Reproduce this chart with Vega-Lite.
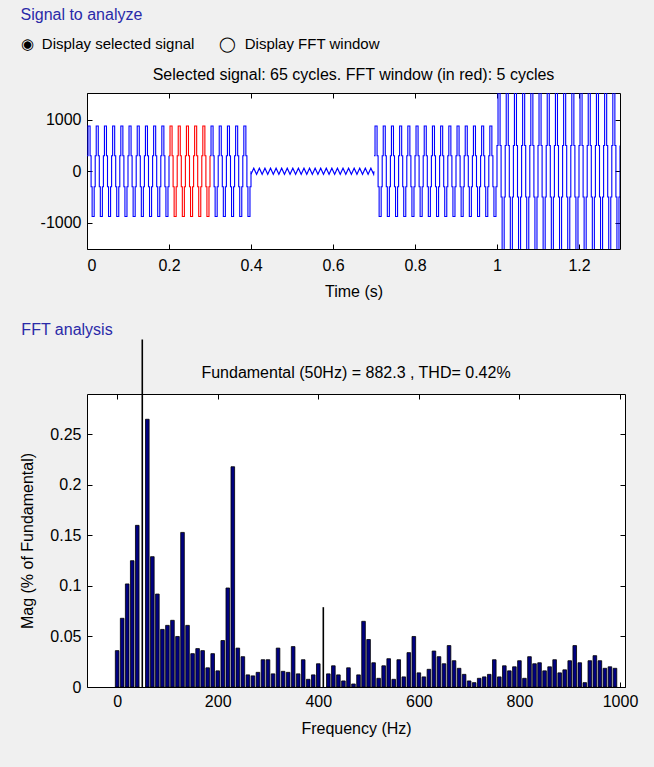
{
  "$schema": "https://vega.github.io/schema/vega-lite/v6.json",
  "background": "#f0f0f0",
  "padding": {"left": 19, "top": 7, "right": 31, "bottom": 40},
  "config": {
    "font": "Liberation Sans",
    "view": {"stroke": "#000", "fill": "#fff", "strokeWidth": 1},
    "axis": {"grid": false, "domain": false, "tickColor": "#000", "tickSize": -5, "labelColor": "#000", "labelFont": "Liberation Sans", "labelFontSize": 16, "titleFont": "Liberation Sans", "titleFontSize": 16, "titleFontWeight": "normal", "titleColor": "#000", "labelPadding": 11}
  },
  "datasets": {
    "sig": [
      {"t":0,"v":300,"s":"b1"},{"t":0.0025,"v":880,"s":"b1"},{"t":0.0075,"v":300,"s":"b1"},{"t":0.01,"v":-300,"s":"b1"},{"t":0.0125,"v":-880,"s":"b1"},{"t":0.0175,"v":-300,"s":"b1"},
      {"t":0.02,"v":300,"s":"b1"},{"t":0.0225,"v":880,"s":"b1"},{"t":0.0275,"v":300,"s":"b1"},{"t":0.03,"v":-300,"s":"b1"},{"t":0.0325,"v":-880,"s":"b1"},{"t":0.0375,"v":-300,"s":"b1"},
      {"t":0.04,"v":300,"s":"b1"},{"t":0.0425,"v":880,"s":"b1"},{"t":0.0475,"v":300,"s":"b1"},{"t":0.05,"v":-300,"s":"b1"},{"t":0.0525,"v":-880,"s":"b1"},{"t":0.0575,"v":-300,"s":"b1"},
      {"t":0.06,"v":300,"s":"b1"},{"t":0.0625,"v":880,"s":"b1"},{"t":0.0675,"v":300,"s":"b1"},{"t":0.07,"v":-300,"s":"b1"},{"t":0.0725,"v":-880,"s":"b1"},{"t":0.0775,"v":-300,"s":"b1"},
      {"t":0.08,"v":300,"s":"b1"},{"t":0.0825,"v":880,"s":"b1"},{"t":0.0875,"v":300,"s":"b1"},{"t":0.09,"v":-300,"s":"b1"},{"t":0.0925,"v":-880,"s":"b1"},{"t":0.0975,"v":-300,"s":"b1"},
      {"t":0.1,"v":300,"s":"b1"},{"t":0.1025,"v":880,"s":"b1"},{"t":0.1075,"v":300,"s":"b1"},{"t":0.11,"v":-300,"s":"b1"},{"t":0.1125,"v":-880,"s":"b1"},{"t":0.1175,"v":-300,"s":"b1"},
      {"t":0.12,"v":300,"s":"b1"},{"t":0.1225,"v":880,"s":"b1"},{"t":0.1275,"v":300,"s":"b1"},{"t":0.13,"v":-300,"s":"b1"},{"t":0.1325,"v":-880,"s":"b1"},{"t":0.1375,"v":-300,"s":"b1"},
      {"t":0.14,"v":300,"s":"b1"},{"t":0.1425,"v":880,"s":"b1"},{"t":0.1475,"v":300,"s":"b1"},{"t":0.15,"v":-300,"s":"b1"},{"t":0.1525,"v":-880,"s":"b1"},{"t":0.1575,"v":-300,"s":"b1"},
      {"t":0.16,"v":300,"s":"b1"},{"t":0.1625,"v":880,"s":"b1"},{"t":0.1675,"v":300,"s":"b1"},{"t":0.17,"v":-300,"s":"b1"},{"t":0.1725,"v":-880,"s":"b1"},{"t":0.1775,"v":-300,"s":"b1"},
      {"t":0.18,"v":300,"s":"b1"},{"t":0.1825,"v":880,"s":"b1"},{"t":0.1875,"v":300,"s":"b1"},{"t":0.19,"v":-300,"s":"b1"},{"t":0.1925,"v":-880,"s":"b1"},{"t":0.1975,"v":-300,"s":"b1"},
      {"t":0.2,"v":300,"s":"b1"},
      {"t":0.2,"v":300,"s":"r"},{"t":0.2025,"v":880,"s":"r"},{"t":0.2075,"v":300,"s":"r"},{"t":0.21,"v":-300,"s":"r"},{"t":0.2125,"v":-880,"s":"r"},{"t":0.2175,"v":-300,"s":"r"},
      {"t":0.22,"v":300,"s":"r"},{"t":0.2225,"v":880,"s":"r"},{"t":0.2275,"v":300,"s":"r"},{"t":0.23,"v":-300,"s":"r"},{"t":0.2325,"v":-880,"s":"r"},{"t":0.2375,"v":-300,"s":"r"},
      {"t":0.24,"v":300,"s":"r"},{"t":0.2425,"v":880,"s":"r"},{"t":0.2475,"v":300,"s":"r"},{"t":0.25,"v":-300,"s":"r"},{"t":0.2525,"v":-880,"s":"r"},{"t":0.2575,"v":-300,"s":"r"},
      {"t":0.26,"v":300,"s":"r"},{"t":0.2625,"v":880,"s":"r"},{"t":0.2675,"v":300,"s":"r"},{"t":0.27,"v":-300,"s":"r"},{"t":0.2725,"v":-880,"s":"r"},{"t":0.2775,"v":-300,"s":"r"},
      {"t":0.28,"v":300,"s":"r"},{"t":0.2825,"v":880,"s":"r"},{"t":0.2875,"v":300,"s":"r"},{"t":0.29,"v":-300,"s":"r"},{"t":0.2925,"v":-880,"s":"r"},{"t":0.2975,"v":-300,"s":"r"},
      {"t":0.3,"v":300,"s":"r"},
      {"t":0.3,"v":300,"s":"b2"},{"t":0.3025,"v":880,"s":"b2"},{"t":0.3075,"v":300,"s":"b2"},{"t":0.31,"v":-300,"s":"b2"},{"t":0.3125,"v":-880,"s":"b2"},{"t":0.3175,"v":-300,"s":"b2"},
      {"t":0.32,"v":300,"s":"b2"},{"t":0.3225,"v":880,"s":"b2"},{"t":0.3275,"v":300,"s":"b2"},{"t":0.33,"v":-300,"s":"b2"},{"t":0.3325,"v":-880,"s":"b2"},{"t":0.3375,"v":-300,"s":"b2"},
      {"t":0.34,"v":300,"s":"b2"},{"t":0.3425,"v":880,"s":"b2"},{"t":0.3475,"v":300,"s":"b2"},{"t":0.35,"v":-300,"s":"b2"},{"t":0.3525,"v":-880,"s":"b2"},{"t":0.3575,"v":-300,"s":"b2"},
      {"t":0.36,"v":300,"s":"b2"},{"t":0.3625,"v":880,"s":"b2"},{"t":0.3675,"v":300,"s":"b2"},{"t":0.37,"v":-300,"s":"b2"},{"t":0.3725,"v":-880,"s":"b2"},{"t":0.3775,"v":-300,"s":"b2"},
      {"t":0.38,"v":300,"s":"b2"},{"t":0.3825,"v":880,"s":"b2"},{"t":0.3875,"v":300,"s":"b2"},{"t":0.39,"v":-300,"s":"b2"},{"t":0.3925,"v":-880,"s":"b2"},{"t":0.3975,"v":-300,"s":"b2"},
      {"t":0.4,"v":0,"s":"b2"},
      {"t":0.4,"v":-60,"s":"p"},{"t":0.4068,"v":60,"s":"p"},{"t":0.4136,"v":-60,"s":"p"},{"t":0.4204,"v":60,"s":"p"},{"t":0.4272,"v":-60,"s":"p"},{"t":0.434,"v":60,"s":"p"},{"t":0.4408,"v":-60,"s":"p"},{"t":0.4476,"v":60,"s":"p"},{"t":0.4544,"v":-60,"s":"p"},{"t":0.4612,"v":60,"s":"p"},
      {"t":0.468,"v":-60,"s":"p"},{"t":0.4748,"v":60,"s":"p"},{"t":0.4816,"v":-60,"s":"p"},{"t":0.4884,"v":60,"s":"p"},{"t":0.4952,"v":-60,"s":"p"},{"t":0.502,"v":60,"s":"p"},{"t":0.5088,"v":-60,"s":"p"},{"t":0.5156,"v":60,"s":"p"},{"t":0.5224,"v":-60,"s":"p"},{"t":0.5292,"v":60,"s":"p"},
      {"t":0.536,"v":-60,"s":"p"},{"t":0.5428,"v":60,"s":"p"},{"t":0.5496,"v":-60,"s":"p"},{"t":0.5564,"v":60,"s":"p"},{"t":0.5632,"v":-60,"s":"p"},{"t":0.57,"v":60,"s":"p"},{"t":0.5768,"v":-60,"s":"p"},{"t":0.5836,"v":60,"s":"p"},{"t":0.5904,"v":-60,"s":"p"},{"t":0.5972,"v":60,"s":"p"},
      {"t":0.604,"v":-60,"s":"p"},{"t":0.6108,"v":60,"s":"p"},{"t":0.6176,"v":-60,"s":"p"},{"t":0.6244,"v":60,"s":"p"},{"t":0.6312,"v":-60,"s":"p"},{"t":0.638,"v":60,"s":"p"},{"t":0.6448,"v":-60,"s":"p"},{"t":0.6516,"v":60,"s":"p"},{"t":0.6584,"v":-60,"s":"p"},{"t":0.6652,"v":60,"s":"p"},
      {"t":0.672,"v":-60,"s":"p"},{"t":0.6788,"v":60,"s":"p"},{"t":0.6856,"v":-60,"s":"p"},{"t":0.6924,"v":60,"s":"p"},{"t":0.6992,"v":-60,"s":"p"},{"t":0.7,"v":0,"s":"p"},
      {"t":0.7,"v":300,"s":"b3"},{"t":0.7025,"v":880,"s":"b3"},{"t":0.7075,"v":300,"s":"b3"},{"t":0.71,"v":-300,"s":"b3"},{"t":0.7125,"v":-880,"s":"b3"},{"t":0.7175,"v":-300,"s":"b3"},
      {"t":0.72,"v":300,"s":"b3"},{"t":0.7225,"v":880,"s":"b3"},{"t":0.7275,"v":300,"s":"b3"},{"t":0.73,"v":-300,"s":"b3"},{"t":0.7325,"v":-880,"s":"b3"},{"t":0.7375,"v":-300,"s":"b3"},
      {"t":0.74,"v":300,"s":"b3"},{"t":0.7425,"v":880,"s":"b3"},{"t":0.7475,"v":300,"s":"b3"},{"t":0.75,"v":-300,"s":"b3"},{"t":0.7525,"v":-880,"s":"b3"},{"t":0.7575,"v":-300,"s":"b3"},
      {"t":0.76,"v":300,"s":"b3"},{"t":0.7625,"v":880,"s":"b3"},{"t":0.7675,"v":300,"s":"b3"},{"t":0.77,"v":-300,"s":"b3"},{"t":0.7725,"v":-880,"s":"b3"},{"t":0.7775,"v":-300,"s":"b3"},
      {"t":0.78,"v":300,"s":"b3"},{"t":0.7825,"v":880,"s":"b3"},{"t":0.7875,"v":300,"s":"b3"},{"t":0.79,"v":-300,"s":"b3"},{"t":0.7925,"v":-880,"s":"b3"},{"t":0.7975,"v":-300,"s":"b3"},
      {"t":0.8,"v":300,"s":"b3"},{"t":0.8025,"v":880,"s":"b3"},{"t":0.8075,"v":300,"s":"b3"},{"t":0.81,"v":-300,"s":"b3"},{"t":0.8125,"v":-880,"s":"b3"},{"t":0.8175,"v":-300,"s":"b3"},
      {"t":0.82,"v":300,"s":"b3"},{"t":0.8225,"v":880,"s":"b3"},{"t":0.8275,"v":300,"s":"b3"},{"t":0.83,"v":-300,"s":"b3"},{"t":0.8325,"v":-880,"s":"b3"},{"t":0.8375,"v":-300,"s":"b3"},
      {"t":0.84,"v":300,"s":"b3"},{"t":0.8425,"v":880,"s":"b3"},{"t":0.8475,"v":300,"s":"b3"},{"t":0.85,"v":-300,"s":"b3"},{"t":0.8525,"v":-880,"s":"b3"},{"t":0.8575,"v":-300,"s":"b3"},
      {"t":0.86,"v":300,"s":"b3"},{"t":0.8625,"v":880,"s":"b3"},{"t":0.8675,"v":300,"s":"b3"},{"t":0.87,"v":-300,"s":"b3"},{"t":0.8725,"v":-880,"s":"b3"},{"t":0.8775,"v":-300,"s":"b3"},
      {"t":0.88,"v":300,"s":"b3"},{"t":0.8825,"v":880,"s":"b3"},{"t":0.8875,"v":300,"s":"b3"},{"t":0.89,"v":-300,"s":"b3"},{"t":0.8925,"v":-880,"s":"b3"},{"t":0.8975,"v":-300,"s":"b3"},
      {"t":0.9,"v":300,"s":"b3"},{"t":0.9025,"v":880,"s":"b3"},{"t":0.9075,"v":300,"s":"b3"},{"t":0.91,"v":-300,"s":"b3"},{"t":0.9125,"v":-880,"s":"b3"},{"t":0.9175,"v":-300,"s":"b3"},
      {"t":0.92,"v":300,"s":"b3"},{"t":0.9225,"v":880,"s":"b3"},{"t":0.9275,"v":300,"s":"b3"},{"t":0.93,"v":-300,"s":"b3"},{"t":0.9325,"v":-880,"s":"b3"},{"t":0.9375,"v":-300,"s":"b3"},
      {"t":0.94,"v":300,"s":"b3"},{"t":0.9425,"v":880,"s":"b3"},{"t":0.9475,"v":300,"s":"b3"},{"t":0.95,"v":-300,"s":"b3"},{"t":0.9525,"v":-880,"s":"b3"},{"t":0.9575,"v":-300,"s":"b3"},
      {"t":0.96,"v":300,"s":"b3"},{"t":0.9625,"v":880,"s":"b3"},{"t":0.9675,"v":300,"s":"b3"},{"t":0.97,"v":-300,"s":"b3"},{"t":0.9725,"v":-880,"s":"b3"},{"t":0.9775,"v":-300,"s":"b3"},
      {"t":0.98,"v":300,"s":"b3"},{"t":0.9825,"v":880,"s":"b3"},{"t":0.9875,"v":300,"s":"b3"},{"t":0.99,"v":-300,"s":"b3"},{"t":0.9925,"v":-880,"s":"b3"},{"t":0.9975,"v":-300,"s":"b3"},
      {"t":1.0,"v":500,"s":"b3"},{"t":1.0025,"v":1600,"s":"b3"},{"t":1.0075,"v":500,"s":"b3"},{"t":1.01,"v":-500,"s":"b3"},{"t":1.0125,"v":-1600,"s":"b3"},{"t":1.0175,"v":-500,"s":"b3"},
      {"t":1.02,"v":500,"s":"b3"},{"t":1.0225,"v":1600,"s":"b3"},{"t":1.0275,"v":500,"s":"b3"},{"t":1.03,"v":-500,"s":"b3"},{"t":1.0325,"v":-1600,"s":"b3"},{"t":1.0375,"v":-500,"s":"b3"},
      {"t":1.04,"v":500,"s":"b3"},{"t":1.0425,"v":1600,"s":"b3"},{"t":1.0475,"v":500,"s":"b3"},{"t":1.05,"v":-500,"s":"b3"},{"t":1.0525,"v":-1600,"s":"b3"},{"t":1.0575,"v":-500,"s":"b3"},
      {"t":1.06,"v":500,"s":"b3"},{"t":1.0625,"v":1600,"s":"b3"},{"t":1.0675,"v":500,"s":"b3"},{"t":1.07,"v":-500,"s":"b3"},{"t":1.0725,"v":-1600,"s":"b3"},{"t":1.0775,"v":-500,"s":"b3"},
      {"t":1.08,"v":500,"s":"b3"},{"t":1.0825,"v":1600,"s":"b3"},{"t":1.0875,"v":500,"s":"b3"},{"t":1.09,"v":-500,"s":"b3"},{"t":1.0925,"v":-1600,"s":"b3"},{"t":1.0975,"v":-500,"s":"b3"},
      {"t":1.1,"v":500,"s":"b3"},{"t":1.1025,"v":1600,"s":"b3"},{"t":1.1075,"v":500,"s":"b3"},{"t":1.11,"v":-500,"s":"b3"},{"t":1.1125,"v":-1600,"s":"b3"},{"t":1.1175,"v":-500,"s":"b3"},
      {"t":1.12,"v":500,"s":"b3"},{"t":1.1225,"v":1600,"s":"b3"},{"t":1.1275,"v":500,"s":"b3"},{"t":1.13,"v":-500,"s":"b3"},{"t":1.1325,"v":-1600,"s":"b3"},{"t":1.1375,"v":-500,"s":"b3"},
      {"t":1.14,"v":500,"s":"b3"},{"t":1.1425,"v":1600,"s":"b3"},{"t":1.1475,"v":500,"s":"b3"},{"t":1.15,"v":-500,"s":"b3"},{"t":1.1525,"v":-1600,"s":"b3"},{"t":1.1575,"v":-500,"s":"b3"},
      {"t":1.16,"v":500,"s":"b3"},{"t":1.1625,"v":1600,"s":"b3"},{"t":1.1675,"v":500,"s":"b3"},{"t":1.17,"v":-500,"s":"b3"},{"t":1.1725,"v":-1600,"s":"b3"},{"t":1.1775,"v":-500,"s":"b3"},
      {"t":1.18,"v":500,"s":"b3"},{"t":1.1825,"v":1600,"s":"b3"},{"t":1.1875,"v":500,"s":"b3"},{"t":1.19,"v":-500,"s":"b3"},{"t":1.1925,"v":-1600,"s":"b3"},{"t":1.1975,"v":-500,"s":"b3"},
      {"t":1.2,"v":500,"s":"b3"},{"t":1.2025,"v":1600,"s":"b3"},{"t":1.2075,"v":500,"s":"b3"},{"t":1.21,"v":-500,"s":"b3"},{"t":1.2125,"v":-1600,"s":"b3"},{"t":1.2175,"v":-500,"s":"b3"},
      {"t":1.22,"v":500,"s":"b3"},{"t":1.2225,"v":1600,"s":"b3"},{"t":1.2275,"v":500,"s":"b3"},{"t":1.23,"v":-500,"s":"b3"},{"t":1.2325,"v":-1600,"s":"b3"},{"t":1.2375,"v":-500,"s":"b3"},
      {"t":1.24,"v":500,"s":"b3"},{"t":1.2425,"v":1600,"s":"b3"},{"t":1.2475,"v":500,"s":"b3"},{"t":1.25,"v":-500,"s":"b3"},{"t":1.2525,"v":-1600,"s":"b3"},{"t":1.2575,"v":-500,"s":"b3"},
      {"t":1.26,"v":500,"s":"b3"},{"t":1.2625,"v":1600,"s":"b3"},{"t":1.2675,"v":500,"s":"b3"},{"t":1.27,"v":-500,"s":"b3"},{"t":1.2725,"v":-1600,"s":"b3"},{"t":1.2775,"v":-500,"s":"b3"},
      {"t":1.28,"v":500,"s":"b3"},{"t":1.2825,"v":1600,"s":"b3"},{"t":1.2875,"v":500,"s":"b3"},{"t":1.29,"v":-500,"s":"b3"},{"t":1.2925,"v":-1600,"s":"b3"},{"t":1.2975,"v":-500,"s":"b3"},
      {"t":1.3,"v":500,"s":"b3"}
    ],
    "fft": [
      {"f":0,"m":0.036},{"f":10,"m":0.068},{"f":20,"m":0.102},{"f":30,"m":0.125},{"f":40,"m":0.160},{"f":50,"m":0.344},{"f":60,"m":0.265},{"f":70,"m":0.129},{"f":80,"m":0.092},{"f":90,"m":0.057},
      {"f":100,"m":0.061},{"f":110,"m":0.066},{"f":120,"m":0.050},{"f":130,"m":0.153},{"f":140,"m":0.061},{"f":150,"m":0.033},{"f":160,"m":0.038},{"f":170,"m":0.036},{"f":180,"m":0.019},{"f":190,"m":0.033},
      {"f":200,"m":0.016},{"f":210,"m":0.046},{"f":220,"m":0.098},{"f":230,"m":0.218},{"f":240,"m":0.0385},{"f":250,"m":0.030},{"f":260,"m":0.012},{"f":270,"m":0.011},{"f":280,"m":0.0145},{"f":290,"m":0.027},
      {"f":300,"m":0.027},{"f":310,"m":0.013},{"f":320,"m":0.0385},{"f":330,"m":0.0155},{"f":340,"m":0.0145},{"f":350,"m":0.040},{"f":360,"m":0.013},{"f":370,"m":0.027},{"f":380,"m":0.0076},{"f":390,"m":0.012},
      {"f":400,"m":0.023},{"f":410,"m":0.079},{"f":420,"m":0.013},{"f":430,"m":0.021},{"f":440,"m":0.012},{"f":450,"m":0.006},{"f":460,"m":0.019},{"f":470,"m":0.003},{"f":480,"m":0.012},{"f":490,"m":0.065},
      {"f":500,"m":0.047},{"f":510,"m":0.024},{"f":520,"m":0.0086},{"f":530,"m":0.021},{"f":540,"m":0.028},{"f":550,"m":0.0076},{"f":560,"m":0.027},{"f":570,"m":0.010},{"f":580,"m":0.034},{"f":590,"m":0.050},
      {"f":600,"m":0.014},{"f":610,"m":0.010},{"f":620,"m":0.0175},{"f":630,"m":0.0356},{"f":640,"m":0.030},{"f":650,"m":0.023},{"f":660,"m":0.041},{"f":670,"m":0.026},{"f":680,"m":0.0185},{"f":690,"m":0.0125},
      {"f":700,"m":0.006},{"f":710,"m":0.0043},{"f":720,"m":0.0086},{"f":730,"m":0.010},{"f":740,"m":0.0125},{"f":750,"m":0.027},{"f":760,"m":0.010},{"f":770,"m":0.021},{"f":780,"m":0.016},{"f":790,"m":0.020},
      {"f":800,"m":0.026},{"f":810,"m":0.0086},{"f":820,"m":0.030},{"f":830,"m":0.023},{"f":840,"m":0.024},{"f":850,"m":0.016},{"f":860,"m":0.020},{"f":870,"m":0.027},{"f":880,"m":0.014},{"f":890,"m":0.017},
      {"f":900,"m":0.026},{"f":910,"m":0.041},{"f":920,"m":0.024},{"f":930,"m":0.0043},{"f":940,"m":0.026},{"f":950,"m":0.031},{"f":960,"m":0.026},{"f":970,"m":0.0185},{"f":980,"m":0.020},{"f":990,"m":0.0185}
    ]
  },
  "spacing": 22,
  "vconcat": [
    {
      "title": {"text": "Signal to analyze", "subtitle": "◉\u00a0\u00a0Display selected signal\u00a0\u00a0\u00a0\u00a0\u00a0\u00a0◯\u00a0\u00a0Display FFT window", "anchor": "start", "frame": "bounds", "dx": -8, "font": "Liberation Sans", "fontSize": 16, "fontWeight": "normal", "color": "#2a2aa8", "subtitleFont": "Liberation Sans", "subtitleFontSize": 15, "subtitleColor": "#000", "subtitlePadding": 14, "offset": 14},
      "vconcat": [
        {
          "title": {"text": "Selected signal: 65 cycles. FFT window (in red): 5 cycles", "font": "Liberation Sans", "fontSize": 16, "fontWeight": "normal", "color": "#000", "offset": 10, "anchor": "middle"},
          "width": 533,
          "height": 156,
          "data": {"name": "sig"},
          "layer": [
            {
              "transform": [{"filter": "datum.s == 'b1' || datum.s == 'b2' || datum.s == 'b3'"}],
              "mark": {"type": "line", "interpolate": "step-after", "color": "#0000ff", "strokeWidth": 1.1, "clip": true},
              "encoding": {
                "x": {"field": "t", "type": "quantitative", "scale": {"domain": [0, 1.3], "nice": false, "zero": false}, "axis": {"values": [0, 0.2, 0.4, 0.6, 0.8, 1, 1.2], "format": "~g", "title": "Time (s)", "labelPadding": 13, "titlePadding": 10}},
                "y": {"field": "v", "type": "quantitative", "scale": {"domain": [-1510, 1520], "nice": false, "zero": false}, "axis": {"values": [-1000, 0, 1000], "labelExpr": "'' + datum.value", "title": null, "minExtent": 58}},
                "detail": {"field": "s"}
              }
            },
            {
              "transform": [{"filter": "datum.s == 'r'"}],
              "mark": {"type": "line", "interpolate": "step-after", "color": "#ff0000", "strokeWidth": 1.1, "clip": true},
              "encoding": {
                "x": {"field": "t", "type": "quantitative", "axis": null},
                "y": {"field": "v", "type": "quantitative", "axis": null}
              }
            },
            {
              "transform": [{"filter": "datum.s == 'p'"}],
              "mark": {"type": "line", "color": "#0000ff", "strokeWidth": 1.1, "clip": true},
              "encoding": {
                "x": {"field": "t", "type": "quantitative", "axis": {"orient": "top", "values": [0, 0.2, 0.4, 0.6, 0.8, 1, 1.2], "labels": false, "title": null}},
                "y": {"field": "v", "type": "quantitative", "axis": {"orient": "right", "values": [-1000, 0, 1000], "labels": false, "title": null}}
              }
            }
          ],
          "resolve": {"axis": {"x": "independent", "y": "independent"}}
        }
      ]
    },
    {
      "title": {"text": "FFT analysis", "anchor": "start", "frame": "bounds", "dx": 2, "font": "Liberation Sans", "fontSize": 16, "fontWeight": "normal", "color": "#2a2aa8", "offset": 0},
      "vconcat": [
        {
          "title": {"text": "Fundamental (50Hz) = 882.3 , THD= 0.42%", "font": "Liberation Sans", "fontSize": 16, "fontWeight": "normal", "color": "#000", "offset": -42, "anchor": "middle"},
          "width": 538,
          "height": 293,
          "data": {"name": "fft"},
          "layer": [
            {
              "transform": [{"filter": "datum.f != 50 && datum.f != 410"}],
              "mark": {"type": "bar", "size": 3.6, "color": "#000080", "stroke": "#000", "strokeWidth": 0.8},
              "encoding": {
                "x": {"field": "f", "type": "quantitative", "scale": {"domain": [-50, 1000], "nice": false, "zero": false}, "axis": {"values": [0, 200, 400, 600, 800, 1000], "format": "d", "title": "Frequency (Hz)", "labelPadding": 11, "titlePadding": 11}},
                "y": {"field": "m", "type": "quantitative", "scale": {"domain": [0, 0.29], "nice": false}, "axis": {"values": [0, 0.05, 0.1, 0.15, 0.2, 0.25], "format": "~g", "title": "Mag (% of Fundamental)", "titlePadding": 14}}
              }
            },
            {
              "transform": [{"filter": "datum.f == 50 || datum.f == 410"}],
              "mark": {"type": "rule", "color": "#000", "strokeWidth": 1.6, "clip": false},
              "encoding": {
                "x": {"field": "f", "type": "quantitative", "axis": {"orient": "top", "values": [0, 200, 400, 600, 800, 1000], "labels": false, "title": null}},
                "y": {"field": "m", "type": "quantitative", "axis": {"orient": "right", "values": [0, 0.05, 0.1, 0.15, 0.2, 0.25], "labels": false, "title": null}},
                "y2": {"datum": 0}
              }
            }
          ],
          "resolve": {"axis": {"x": "independent", "y": "independent"}}
        }
      ]
    }
  ]
}
